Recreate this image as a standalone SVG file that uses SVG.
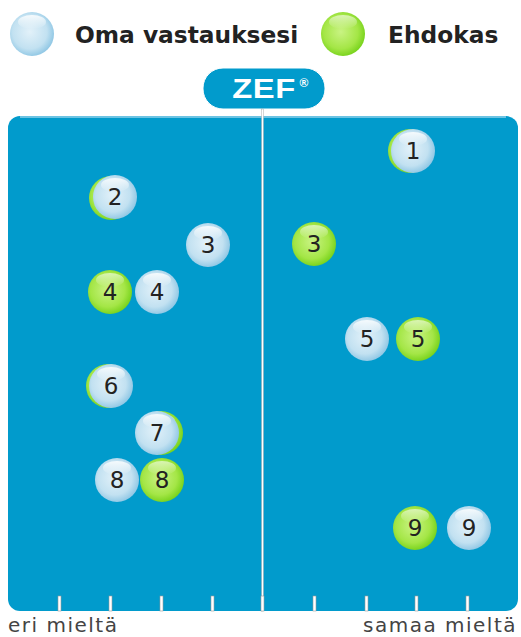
<svg xmlns="http://www.w3.org/2000/svg" width="521" height="637" viewBox="0 0 521 637">
<defs>
<radialGradient id="gBlue" cx="0.45" cy="0.45" r="0.6">
<stop offset="0" stop-color="#e2f1f9"/>
<stop offset="0.65" stop-color="#c2e1f1"/>
<stop offset="1" stop-color="#86c2e2"/>
</radialGradient>
<radialGradient id="gGreen" cx="0.45" cy="0.45" r="0.6">
<stop offset="0" stop-color="#c9f383"/>
<stop offset="0.65" stop-color="#a4e646"/>
<stop offset="1" stop-color="#6fcf14"/>
</radialGradient>
<linearGradient id="shine" x1="0" y1="0" x2="0" y2="1">
<stop offset="0" stop-color="#ffffff" stop-opacity="0.85"/>
<stop offset="1" stop-color="#ffffff" stop-opacity="0"/>
</linearGradient>
<g id="bubB">
<circle r="22" fill="url(#gBlue)"/>
<ellipse cx="0" cy="-12" rx="14" ry="7" fill="url(#shine)"/>
</g>
<g id="bubG">
<circle r="22" fill="url(#gGreen)"/>
<ellipse cx="0" cy="-12" rx="14" ry="7" fill="url(#shine)" opacity="0.7"/>
</g>
</defs>
<style>
.lg{font-family:"DejaVu Sans",Verdana,sans-serif;font-weight:bold;font-size:23.3px;fill:#222}
.num{font-family:"DejaVu Sans",Verdana,sans-serif;font-size:23px;fill:#222;text-anchor:middle}
.ax{font-family:"DejaVu Sans",Verdana,sans-serif;font-size:20px;letter-spacing:1.5px;fill:#444}
.tick{fill:#ffffff;stroke:#9a9a9a;stroke-width:0.6}
</style>
<rect width="521" height="637" fill="#ffffff"/>

<g id="legend">
<use href="#bubB" x="32" y="34"/>
<text class="lg" x="75" y="43">Oma vastauksesi</text>
<use href="#bubG" x="343" y="34"/>
<text class="lg" x="388" y="43">Ehdokas</text>
</g>

<g id="panel">
<rect x="8" y="116" width="510" height="495" rx="12" fill="#019bcc"/>
<path d="M20,117 H506" stroke="#6cc3e3" stroke-width="2"/>
</g>

<g id="badge">
<rect x="203" y="68" width="122" height="41" rx="20" fill="#019bcc" stroke="#ffffff" stroke-width="1"/>
<text transform="scale(1.15,1)" x="229.6" y="98" font-family="Liberation Sans,Arial,sans-serif" font-weight="bold" font-size="28.5" letter-spacing="0.5" fill="#ffffff" text-anchor="middle">ZEF</text>
<text x="304" y="87" font-family="Liberation Sans,Arial,sans-serif" font-weight="bold" font-size="12" fill="#ffffff" text-anchor="middle">®</text>
</g>

<g id="axis">
<rect x="261.5" y="109" width="2" height="502" fill="#ffffff" stroke="#9a9a9a" stroke-width="0.4"/>
<rect class="tick" x="58" y="596" width="3" height="15"/>
<rect class="tick" x="109" y="596" width="3" height="15"/>
<rect class="tick" x="160" y="596" width="3" height="15"/>
<rect class="tick" x="211" y="596" width="3" height="15"/>
<rect class="tick" x="261" y="596" width="3" height="15"/>
<rect class="tick" x="313" y="596" width="3" height="15"/>
<rect class="tick" x="365" y="596" width="3" height="15"/>
<rect class="tick" x="415" y="596" width="3" height="15"/>
<rect class="tick" x="466" y="596" width="3" height="15"/>
<text class="ax" x="8" y="632">eri mieltä</text>
<text class="ax" x="517" y="632" text-anchor="end">samaa mieltä</text>
</g>

<g id="q1"><use href="#bubG" x="410" y="151"/><use href="#bubB" x="413" y="151"/><text class="num" x="413" y="159">1</text></g>
<g id="q2"><use href="#bubG" x="111" y="198"/><use href="#bubB" x="115" y="197"/><text class="num" x="115" y="205">2</text></g>
<g id="q3b"><use href="#bubB" x="208" y="245"/><text class="num" x="208" y="253">3</text></g>
<g id="q3g"><use href="#bubG" x="314" y="244"/><text class="num" x="314" y="252">3</text></g>
<g id="q4g"><use href="#bubG" x="110" y="292"/><text class="num" x="110" y="300">4</text></g>
<g id="q4b"><use href="#bubB" x="157" y="292"/><text class="num" x="157" y="300">4</text></g>
<g id="q5b"><use href="#bubB" x="367" y="339"/><text class="num" x="367" y="347">5</text></g>
<g id="q5g"><use href="#bubG" x="418" y="339"/><text class="num" x="418" y="347">5</text></g>
<g id="q6"><use href="#bubG" x="108" y="386"/><use href="#bubB" x="111" y="386"/><text class="num" x="111" y="394">6</text></g>
<g id="q7"><use href="#bubG" x="161" y="433"/><use href="#bubB" x="157" y="433"/><text class="num" x="157" y="441">7</text></g>
<g id="q8b"><use href="#bubB" x="117" y="480"/><text class="num" x="117" y="488">8</text></g>
<g id="q8g"><use href="#bubG" x="162" y="480"/><text class="num" x="162" y="488">8</text></g>
<g id="q9g"><use href="#bubG" x="415" y="528"/><text class="num" x="415" y="536">9</text></g>
<g id="q9b"><use href="#bubB" x="469" y="528"/><text class="num" x="469" y="536">9</text></g>
</svg>
